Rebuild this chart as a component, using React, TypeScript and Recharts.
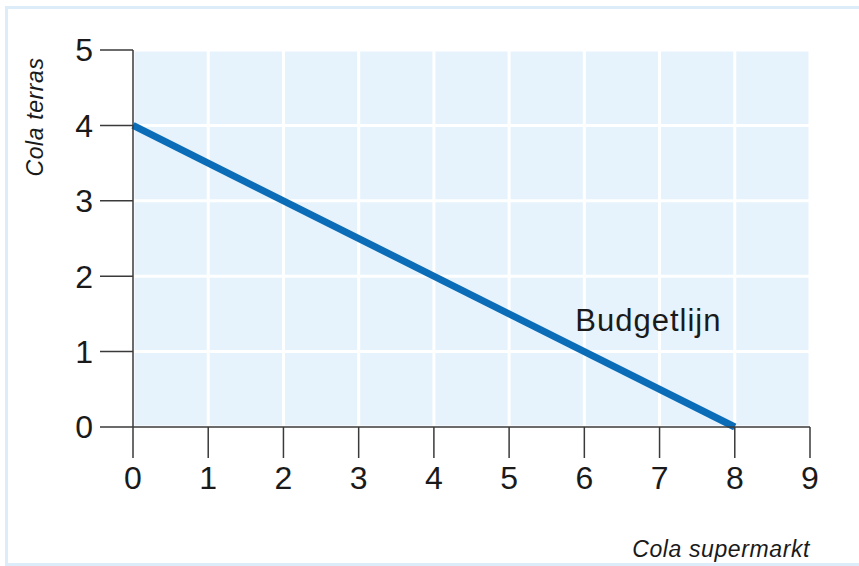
import { LineChart, Line, XAxis, YAxis, CartesianGrid, ReferenceDot, Label } from "recharts";

const xTicks = [0, 1, 2, 3, 4, 5, 6, 7, 8, 9];
const yTicks = [0, 1, 2, 3, 4, 5];
// budget line: cola supermarkt (x) vs cola terras (y)
const budgetX = [0, 8];
const budgetY = [4, 0];
const labelPoint = { x: 5.88, y: 1.42, text: "Budgetlijn" };

const data = budgetX.map((x, i) => ({ x, y: budgetY[i] }));

const font = "Liberation Sans, Arial, sans-serif";
const axisColor = "#3a3a3a";
const tickStyle = { fontSize: 32, fill: "#1a1a1a", fontFamily: font };
const titleStyle = { fontSize: 23, fontStyle: "italic", fill: "#1a1a1a", fontFamily: font, letterSpacing: 0.6 };

export default function App() {
  return (
    <div style={{ position: "fixed", left: 0, top: 0, width: 859, height: 566, background: "#fff", overflow: "hidden" }}>
      <div
        style={{
          position: "absolute",
          left: 5,
          top: 6,
          width: 880,
          height: 560,
          border: "3px solid #dcecf8",
          boxSizing: "border-box",
        }}
      />
      <div style={{ position: "absolute", left: 0, top: 0 }}>
        <LineChart width={859} height={566} data={data} margin={{ top: 50, right: 49, left: 0, bottom: 0 }}>
          <CartesianGrid
            fill="#e6f3fc"
            stroke="#ffffff"
            strokeWidth={3}
            horizontalValues={yTicks}
            verticalValues={xTicks}
          />
          <XAxis
            dataKey="x"
            type="number"
            domain={[0, 9]}
            ticks={xTicks}
            interval={0}
            height={139}
            tickSize={31}
            tickMargin={8}
            stroke={axisColor}
            tick={tickStyle}
            axisLine={{ stroke: axisColor, strokeWidth: 1.5 }}
            tickLine={{ stroke: axisColor, strokeWidth: 1.5 }}
          >
            <Label
              content={(props: any) => {
                const vb = props.viewBox || {};
                return (
                  <text x={vb.x + vb.width} y={vb.y + 130} textAnchor="end" style={titleStyle}>
                    Cola supermarkt
                  </text>
                );
              }}
            />
          </XAxis>
          <YAxis
            dataKey="y"
            type="number"
            domain={[0, 5]}
            ticks={yTicks}
            interval={0}
            width={133}
            tickSize={33}
            tickMargin={7}
            stroke={axisColor}
            tick={tickStyle}
            axisLine={{ stroke: axisColor, strokeWidth: 1.5 }}
            tickLine={{ stroke: axisColor, strokeWidth: 1.5 }}
          >
            <Label
              content={(props: any) => {
                const vb = props.viewBox || {};
                const cx = vb.x + 43;
                const cy = vb.y + 67;
                return (
                  <text x={cx} y={cy} transform={`rotate(-90, ${cx}, ${cy})`} textAnchor="middle" style={titleStyle}>
                    Cola terras
                  </text>
                );
              }}
            />
          </YAxis>
          <Line
            type="linear"
            dataKey="y"
            stroke="#0b6cb7"
            strokeWidth={7}
            dot={false}
            activeDot={false}
            isAnimationActive={false}
          />
          <ReferenceDot
            x={labelPoint.x}
            y={labelPoint.y}
            r={0}
            fill="none"
            stroke="none"
            label={{
              value: labelPoint.text,
              position: "right",
              offset: 0,
              style: { fontSize: 31, fill: "#1a1a1a", fontFamily: font, letterSpacing: 1 },
            }}
          />
        </LineChart>
      </div>
    </div>
  );
}
